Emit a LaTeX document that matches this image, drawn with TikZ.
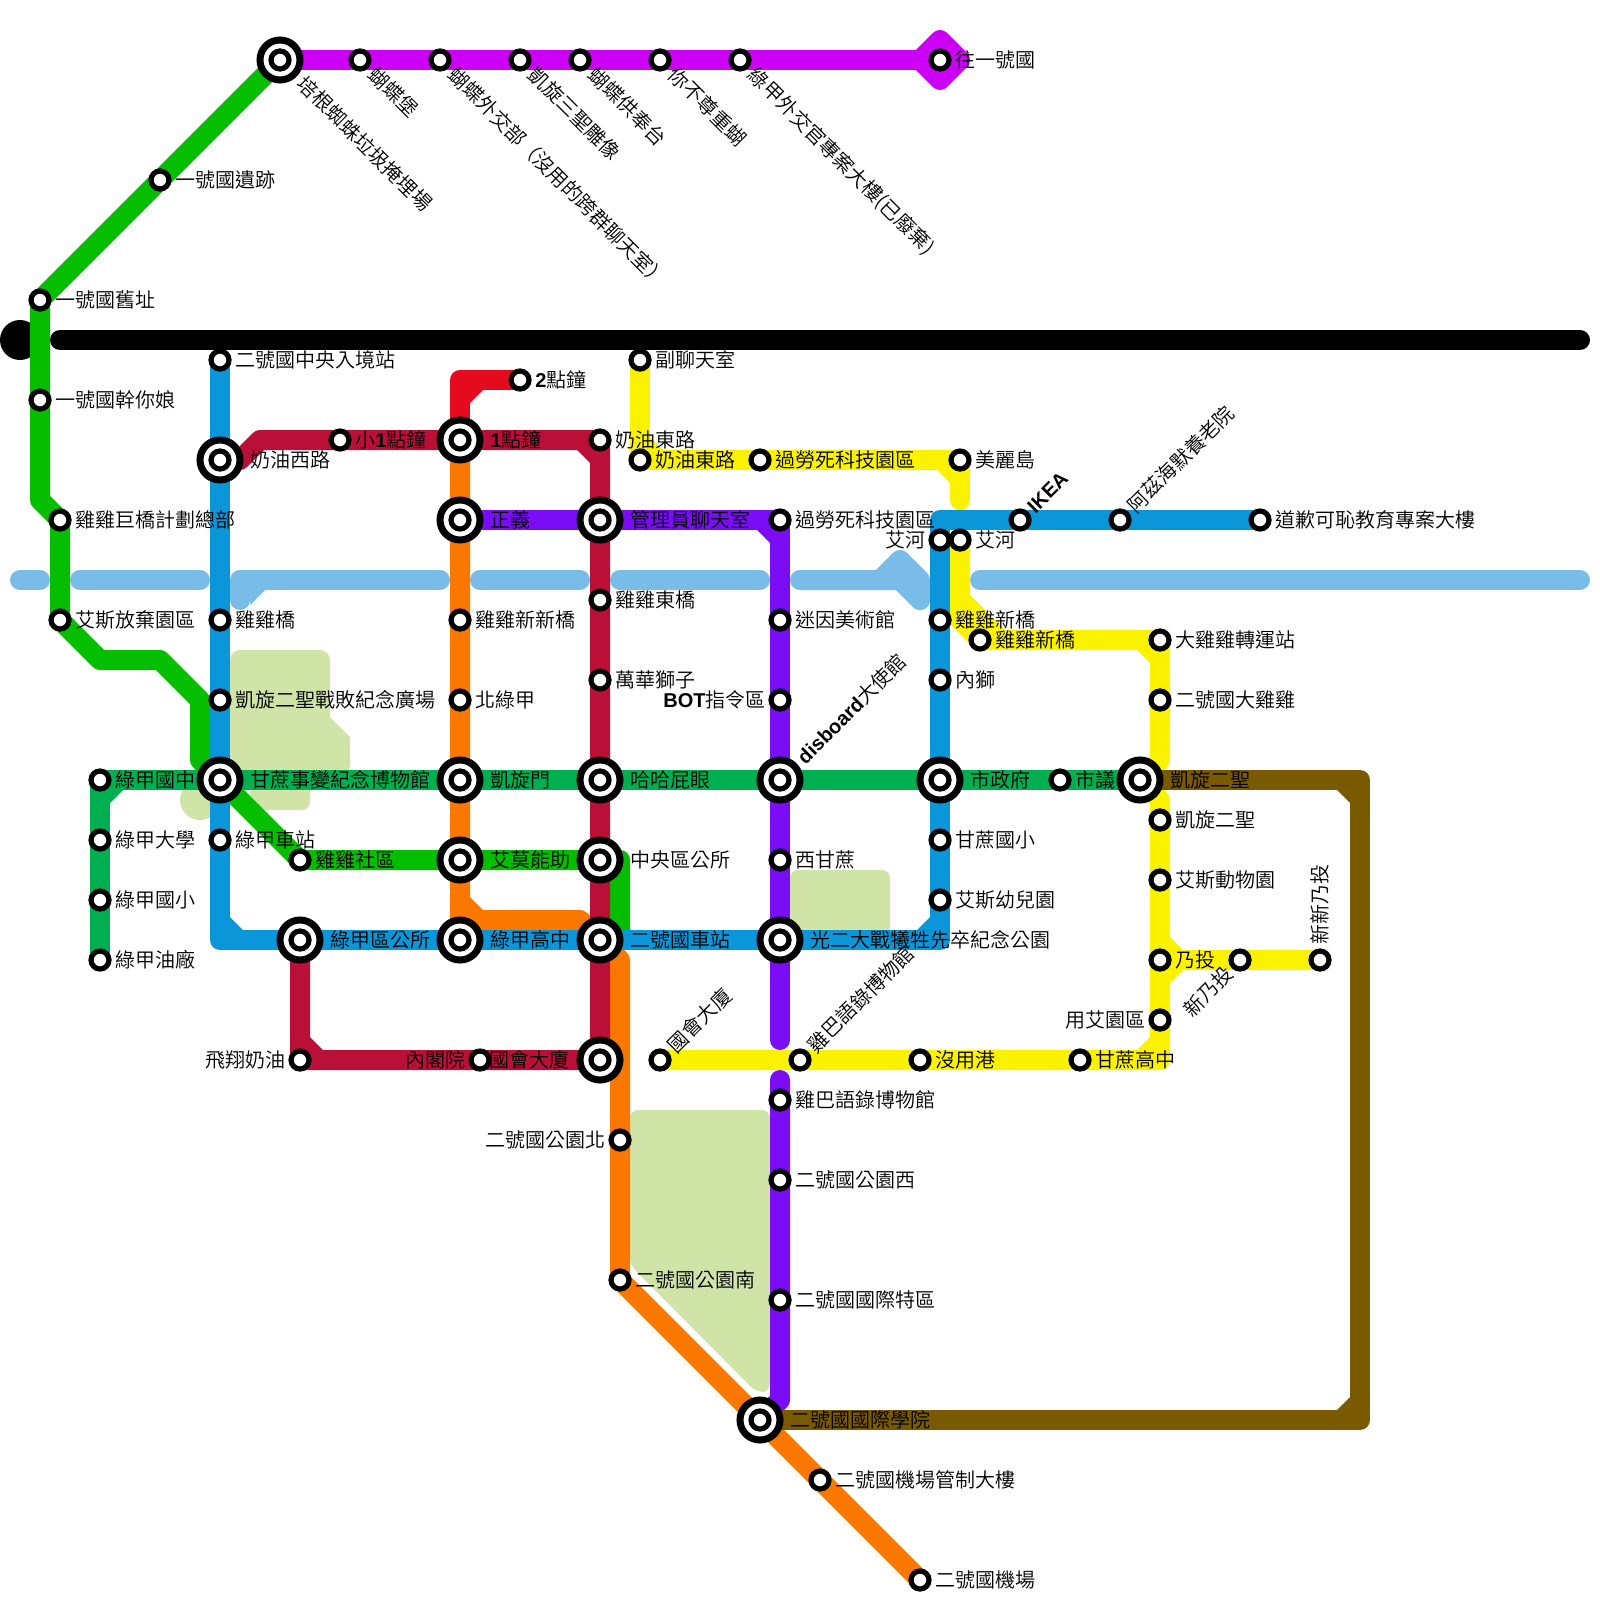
\documentclass[tikz,border=0pt]{standalone}
\usepackage{fontspec}
\setmainfont{Noto Sans CJK TC DemiLight}
\newfontfamily\latf{Liberation Sans}
\newcommand\Lb[1]{{\latf\bfseries #1}}
\pgfdeclarelayer{lines}
\pgfdeclarelayer{toplayer}
\pgfsetlayers{lines,main,toplayer}
\definecolor{cbright}{HTML}{06BE00}
\definecolor{cdark}{HTML}{00B050}
\definecolor{cblue}{HTML}{0A96D8}
\definecolor{cyel}{HTML}{FBF200}
\definecolor{ccrim}{HTML}{BA1038}
\definecolor{cred}{HTML}{E60A1E}
\definecolor{cora}{HTML}{FA7800}
\definecolor{cpur}{HTML}{7A0DF5}
\definecolor{cmag}{HTML}{CC00F5}
\definecolor{cbro}{HTML}{7A5A00}
\definecolor{criver}{HTML}{7ABCE8}
\definecolor{cpark}{HTML}{D0E4A8}
\tikzset{
 smallst/.style={circle,draw=black,fill=white,line width=2.6pt,minimum size=9pt,inner sep=0pt,outer sep=0pt},
 bigst/.style={circle,draw=black,fill=white,line width=3.5pt,minimum size=20pt,inner sep=0pt,outer sep=0pt},
 lab/.style={inner sep=0pt,text height=8.8pt,text depth=1.2pt,font=\fontsize{10pt}{12pt}\selectfont},
 ln/.style={draw=#1,line width=10pt,line join=round},
 riv/.style={draw=criver,line width=10pt,line cap=round,line join=round},
 park/.style={fill=cpark,rounded corners=4pt}
}
\newcommand\St[3]{\node[smallst] (#1) at (#2,#3) {};}
\newcommand\Bg[3]{\node[bigst] (#1) at (#2,#3) {};\node[smallst] (#1i) at (#1.center) {};}
\newcommand\labR[3]{\node[lab,anchor=west] (#1t) at ([shift={(#2,0)}]#1.center) {#3};}
\newcommand\labL[3]{\node[lab,anchor=east] (#1t) at ([shift={(-#2,0)}]#1.center) {#3};}
\newcommand\labX[6]{\node[lab,anchor=#5,rotate=#4] (#1t) at ([shift={(#2,#3)}]#1.center) {#6};}
\newcommand\Ch[5]{\fill[#1] ({#2+10*#4},{#3+10*#5}) -- ({#2+23*#4},{#3+10*#5}) -- ({#2+10*#4},{#3+23*#5}) -- cycle;}
\begin{document}
\begin{tikzpicture}[x=0.5pt,y=-0.5pt]
\useasboundingbox (0,0) rectangle (1600,1600);
% stations
\Bg{ma}{280}{60}\St{mb}{360}{60}\St{mc}{440}{60}\St{md}{520}{60}\St{me}{580}{60}\St{mf}{660}{60}\St{mg}{740}{60}\St{mh}{940}{60}
\St{ga}{160}{180}\St{gb}{40}{300}\St{gc}{40}{400}\St{gd}{60}{520}\St{ge}{60}{620}
\St{da}{100}{780}\St{db}{100}{840}\St{dc}{100}{900}\St{dd}{100}{960}
\St{ba}{220}{360}\Bg{bb}{220}{460}\St{bc}{220}{620}\St{bd}{220}{700}\Bg{be}{220}{780}\St{bf}{220}{840}
\St{gf}{300}{860}\Bg{bg}{300}{940}\St{ca}{340}{440}\St{cb}{300}{1060}\St{cc}{480}{1060}
\St{ra}{520}{380}\Bg{oa}{460}{440}\Bg{ob}{460}{520}\St{oc}{460}{620}\St{od}{460}{700}\Bg{oe}{460}{780}\Bg{of}{460}{860}\Bg{og}{460}{940}
\St{cd}{600}{440}\Bg{ce}{600}{520}\St{cf}{600}{600}\St{cg}{600}{680}\Bg{ch}{600}{780}\Bg{ci}{600}{860}\Bg{cj}{600}{940}\Bg{ck}{600}{1060}
\St{oh}{620}{1140}\St{oi}{620}{1280}\Bg{oj}{760}{1420}\St{ok}{820}{1480}\St{ol}{920}{1580}
\St{pa}{780}{520}\St{pb}{780}{620}\St{pc}{780}{700}\Bg{pd}{780}{780}\St{pe}{780}{860}\Bg{pf}{780}{940}\St{pg}{780}{1100}\St{ph}{780}{1180}\St{pi}{780}{1300}
\St{ya}{640}{360}\St{yb}{640}{460}\St{yc}{760}{460}\St{yd}{960}{460}\St{ye}{960}{540}\St{yf}{980}{640}\St{yg}{1160}{640}\St{yh}{1160}{700}\St{yi}{1160}{820}\St{yj}{1160}{880}\St{yk}{1160}{960}\St{yl}{1240}{960}\St{ym}{1320}{960}\St{yn}{1160}{1020}\St{yo}{1080}{1060}\St{yp}{920}{1060}\St{yq}{800}{1060}\St{yr}{660}{1060}
\St{ua}{940}{540}\St{ub}{940}{620}\St{uc}{940}{680}\Bg{ud}{940}{780}\St{ue}{940}{840}\St{uf}{940}{900}\St{ug}{1020}{520}\St{uh}{1120}{520}\St{ui}{1260}{520}
\St{dg}{1060}{780}\Bg{dh}{1140}{780}
% labels
\labX{ma}{21}{20}{-45}{west}{培根蜘蛛垃圾掩埋場}
\labX{mb}{12}{11}{-45}{west}{蝴蝶堡}
\labX{mc}{12}{11}{-45}{west}{蝴蝶外交部（沒用的跨群聊天室）}
\labX{md}{12}{11}{-45}{west}{凱旋三聖雕像}
\labX{me}{12}{11}{-45}{west}{蝴蝶供奉台}
\labX{mf}{12}{11}{-45}{west}{你不尊重蝴}
\labX{mg}{12}{11}{-45}{west}{綠甲外交官專案大樓(已廢棄)}
\labR{mh}{15}{往一號國}
\labR{ga}{15}{一號國遺跡}\labR{gb}{15}{一號國舊址}\labR{gc}{15}{一號國幹你娘}\labR{gd}{15}{雞雞巨橋計劃總部}\labR{ge}{15}{艾斯放棄園區}
\labR{da}{15}{綠甲國中}\labR{db}{15}{綠甲大學}\labR{dc}{15}{綠甲國小}\labR{dd}{15}{綠甲油廠}
\labR{ba}{15}{二號國中央入境站}\labR{bb}{30}{奶油西路}\labR{bc}{15}{雞雞橋}\labR{bd}{15}{凱旋二聖戰敗紀念廣場}\labR{be}{30}{甘蔗事變紀念博物館}\labR{bf}{15}{綠甲車站}
\labR{gf}{15}{雞雞社區}\labR{bg}{30}{綠甲區公所}\labR{ca}{15}{小\Lb{1}點鐘}\labL{cb}{14}{飛翔奶油}\labL{cc}{14}{內閣院}
\labR{ra}{15}{\Lb{2}點鐘}\labR{oa}{30}{\Lb{1}點鐘}\labR{ob}{30}{正義}\labR{oc}{15}{雞雞新新橋}\labR{od}{15}{北綠甲}\labR{oe}{30}{凱旋門}\labR{of}{30}{艾莫能助}\labR{og}{30}{綠甲高中}
\labR{cd}{15}{奶油東路}\labR{ce}{30}{管理員聊天室}\labR{cf}{15}{雞雞東橋}\labR{cg}{15}{萬華獅子}\labR{ch}{30}{哈哈屁眼}\labR{ci}{30}{中央區公所}\labR{cj}{30}{二號國車站}\labL{ck}{30}{國會大廈}
\labL{oh}{14}{二號國公園北}\labR{oi}{15}{二號國公園南}\labR{oj}{30}{二號國國際學院}\labR{ok}{15}{二號國機場管制大樓}\labR{ol}{15}{二號國機場}
\labR{pa}{15}{過勞死科技園區}\labR{pb}{15}{迷因美術館}\labL{pc}{14}{\Lb{BOT}指令區}\labX{pd}{20}{-20}{45}{west}{\Lb{disboard}大使館}\labR{pe}{15}{西甘蔗}\labR{pf}{30}{光二大戰犧牲先卒紀念公園}\labR{pg}{15}{雞巴語錄博物館}\labR{ph}{15}{二號國公園西}\labR{pi}{15}{二號國國際特區}
\labR{ya}{15}{副聊天室}\labR{yb}{15}{奶油東路}\labR{yc}{15}{過勞死科技園區}\labR{yd}{15}{美麗島}\labR{ye}{15}{艾河}\labR{yf}{15}{雞雞新橋}\labR{yg}{15}{大雞雞轉運站}\labR{yh}{15}{二號國大雞雞}\labR{yi}{15}{凱旋二聖}\labR{yj}{15}{艾斯動物園}\labR{yk}{15}{乃投}
\labX{yl}{-10}{10}{45}{east}{新乃投}\labX{ym}{0}{-15}{90}{west}{新新乃投}\labL{yn}{14}{用艾園區}\labR{yo}{15}{甘蔗高中}\labR{yp}{15}{沒用港}\labX{yq}{11}{-11}{45}{west}{雞巴語錄博物館}\labX{yr}{11}{-11}{45}{west}{國會大廈}
\labL{ua}{14}{艾河}\labR{ub}{15}{雞雞新橋}\labR{uc}{15}{內獅}\labR{ud}{30}{市政府}\labR{ue}{15}{甘蔗國小}\labR{uf}{15}{艾斯幼兒園}\labX{ug}{10}{-11}{45}{west}{\Lb{IKEA}}\labX{uh}{11}{-11}{45}{west}{阿茲海默養老院}\labR{ui}{15}{道歉可恥教育專案大樓}
\labR{dg}{15}{市議}\labR{dh}{30}{凱旋二聖}
\begin{pgfonlayer}{lines}
% black dot
\fill[black] (20,340) circle[radius=20];
% parks
\fill[cpark,rounded corners=5pt] (230,700) -- (230,650) -- (330,650) -- (330,690) [sharp corners] -- (330,717) -- (350,737) -- (350,750) [rounded corners=5pt] -- (350,775) -- (230,775) -- cycle;
\fill[cpark] (200,800) circle[radius=20];
\fill[park] (250,775) rectangle (310,810);
\fill[park] (790,870) rectangle (890,935);
\fill[park] (630,1110) -- (770,1110) -- (770,1392) -- (756,1392) -- (630,1265) -- cycle;
% river
\draw[riv] (20,580) -- (40,580);
\draw[riv] (80,580) -- (200,580);
\draw[riv] (440,580) -- (240,580) -- (240,600);
\fill[criver] (250,590) -- (265,590) -- (250,605) -- cycle;
\draw[riv] (480,580) -- (580,580);
\draw[riv] (620,580) -- (760,580);
\draw[riv] (800,580) -- (900,580) -- (920,600);
\draw[riv] (880,580) -- (900,560) -- (920,580) -- (920,600);
\fill[criver] (895,575) rectangle (925,590);
\draw[riv] (980,580) -- (1580,580);
% bright green
\draw[ln=cbright] (ma.center) -- (gb.center) -- (40,500) -- (gd.center) -- (ge.center) -- (100,660) -- (160,660) -- (200,700) -- (200,760) -- (be.center) -- (gf.center) -- (ci.center) -- (620,860) -- (620,940) -- (cj.center);
% yellow
\draw[ln=cyel,line cap=round] (ya.center) -- (yb.center) -- (yd.center) -- (960,500);
\Ch{cyel}{640}{460}{1}{-1}
\Ch{cyel}{960}{460}{-1}{1}
\draw[ln=cyel] (ye.center) -- (960,620) -- (yf.center) -- (yg.center) -- (1160,760) -- (dh.center) -- (1160,800) -- (1160,1060) -- (yr.center);
\fill[cyel] (970,595) -- (1005,630) -- (970,630) -- cycle;
\Ch{cyel}{1160}{640}{-1}{1}
\Ch{cyel}{1160}{1060}{-1}{-1}
\draw[ln=cyel] (yk.center) -- (ym.center);
\Ch{cyel}{1160}{960}{1}{-1}
\Ch{cyel}{1160}{960}{1}{1}
% orange
\draw[ln=cora] (oa.center) -- (460,920) -- (580,920) -- (cj.center) -- (620,960) -- (oi.center) -- (ol.center);
\Ch{cora}{460}{920}{1}{-1}
% red
\draw[ln=cred] (oa.center) -- (460,380) -- (ra.center);
\Ch{cred}{460}{380}{1}{1}
% crimson
\draw[ln=ccrim] (bb.center) -- (240,460) -- (260,440) -- (600,440) -- (ck.center) -- (300,1060) -- (bg.center);
\Ch{ccrim}{600}{440}{-1}{1}
\Ch{ccrim}{300}{1060}{1}{-1}
% dark green
\draw[ln=cdark] (dd.center) -- (100,780) -- (dh.center);
\Ch{cdark}{100}{780}{1}{1}
% blue
\draw[ln=cblue] (ba.center) -- (220,940) -- (940,940) -- (940,520) -- (ui.center);
\Ch{cblue}{220}{940}{1}{-1}
\Ch{cblue}{940}{940}{-1}{-1}
% purple
\draw[ln=cpur,line cap=round] (ob.center) -- (780,520) -- (780,1040);
\draw[ln=cpur,line cap=round] (780,1080) -- (780,1400) -- (oj.center);
\Ch{cpur}{780}{520}{-1}{1}
% magenta
\draw[ln=cmag] (ma.center) -- (920,60);
\draw[ln=cmag,fill=cmag] (920,60) -- (940,40) -- (960,60) -- (940,80) -- cycle;
% brown
\draw[ln=cbro] (dh.center) -- (1360,780) -- (1360,1420) -- (oj.center);
\Ch{cbro}{1360}{780}{-1}{1}
\Ch{cbro}{1360}{1420}{-1}{-1}
\end{pgfonlayer}
\begin{pgfonlayer}{toplayer}
\coordinate (kl) at (60,340);
\coordinate (kr) at (1580,340);
\draw[line width=10pt,line cap=round,black] (kl) -- (kr);
\end{pgfonlayer}
\end{tikzpicture}
\end{document}
